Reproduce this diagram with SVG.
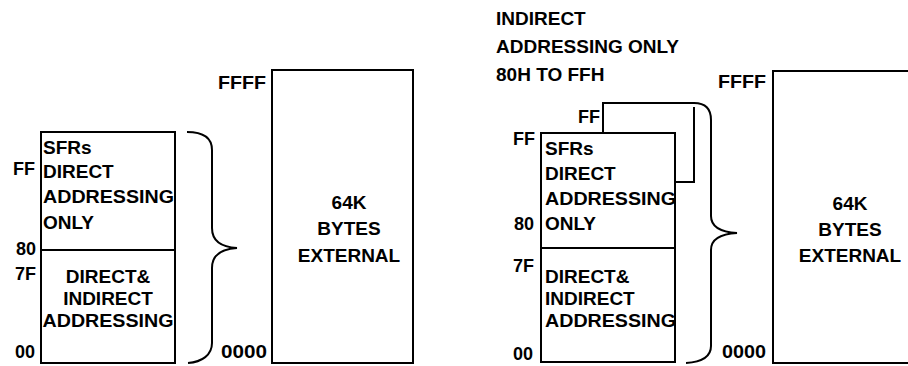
<svg xmlns="http://www.w3.org/2000/svg" width="908" height="366" viewBox="0 0 908 366">
<style>
.t{font-family:"Liberation Sans",Arial,sans-serif;font-weight:bold;font-size:19px;fill:#000}
.n{font-family:"Liberation Sans",Arial,sans-serif;font-weight:bold;font-size:18px;fill:#000}
.e{text-anchor:end}
.c{text-anchor:middle}
.ln{fill:none;stroke:#000;stroke-width:2}
</style>
<rect width="908" height="366" fill="#fff"/>

<!-- LEFT DIAGRAM -->
<g id="left-internal">
<rect class="ln" x="41" y="132" width="134" height="231"/>
<line class="ln" x1="41" y1="250" x2="175" y2="250"/>
<text class="t" x="43" y="154">SFRs</text>
<text class="t" x="43" y="178">DIRECT</text>
<text class="t" x="43" y="203" textLength="131" lengthAdjust="spacingAndGlyphs">ADDRESSING</text>
<text class="t" x="43" y="229">ONLY</text>
<text class="t c" x="108" y="283">DIRECT&amp;</text>
<text class="t c" x="108" y="305">INDIRECT</text>
<text class="t c" x="108" y="327" textLength="131" lengthAdjust="spacingAndGlyphs">ADDRESSING</text>
<text class="n e" x="35" y="175">FF</text>
<text class="n e" x="36" y="255">80</text>
<text class="n e" x="36" y="280">7F</text>
<text class="n e" x="35" y="358">00</text>
</g>
<g id="left-external">
<rect class="ln" x="272" y="70" width="141" height="293"/>
<text class="n e" x="266" y="89" textLength="48" lengthAdjust="spacingAndGlyphs">FFFF</text>
<text class="n e" x="267" y="358" textLength="46" lengthAdjust="spacingAndGlyphs">0000</text>
<text class="t c" x="349" y="209">64K</text>
<text class="t c" x="349" y="235">BYTES</text>
<text class="t c" x="349" y="262">EXTERNAL</text>
</g>

<!-- RIGHT DIAGRAM -->
<g id="right-title">
<text class="t" x="496" y="25">INDIRECT</text>
<text class="t" x="496" y="53">ADDRESSING ONLY</text>
<text class="t" x="496" y="81">80H TO FFH</text>
</g>
<g id="right-upper128">
<path class="ln" d="M603 133 L603 103 L694 103"/>
<path class="ln" d="M694 107 L694 182 L675 182"/>
<text class="n e" x="600" y="123">FF</text>
</g>
<g id="right-internal">
<rect class="ln" x="541" y="133" width="134" height="229"/>
<line class="ln" x1="541" y1="248" x2="675" y2="248"/>
<text class="t" x="545" y="155">SFRs</text>
<text class="t" x="545" y="180">DIRECT</text>
<text class="t" x="545" y="205" textLength="131" lengthAdjust="spacingAndGlyphs">ADDRESSING</text>
<text class="t" x="545" y="230">ONLY</text>
<text class="t" x="545" y="283">DIRECT&amp;</text>
<text class="t" x="545" y="305">INDIRECT</text>
<text class="t" x="545" y="327" textLength="131" lengthAdjust="spacingAndGlyphs">ADDRESSING</text>
<text class="n e" x="535" y="145">FF</text>
<text class="n e" x="534" y="230">80</text>
<text class="n e" x="534" y="272">7F</text>
<text class="n e" x="533" y="360">00</text>
</g>
<g id="right-external">
<path class="ln" d="M912 71 L773 71 L773 363 L912 363"/>
<text class="n e" x="766" y="88" textLength="48" lengthAdjust="spacingAndGlyphs">FFFF</text>
<text class="n e" x="766" y="358" textLength="44" lengthAdjust="spacingAndGlyphs">0000</text>
<text class="t c" x="850" y="210">64K</text>
<text class="t c" x="850" y="236">BYTES</text>
<text class="t c" x="850" y="262">EXTERNAL</text>
</g>

<g id="connectors">
<path class="ln" d="M187 132 C204 132 212 138 212 150 L212 228 C212 240 220 247 237 248 C220 249 212 256 212 268 L212 343 C212 355 202 362 188 363"/>
<path class="ln" d="M694 103 C705 103 711 109 711 120 L711 216 C711 226 719 232 737 233 C719 234 711 240 711 250 L711 346 C711 356 702 362 686 363"/>
</g>
</svg>
